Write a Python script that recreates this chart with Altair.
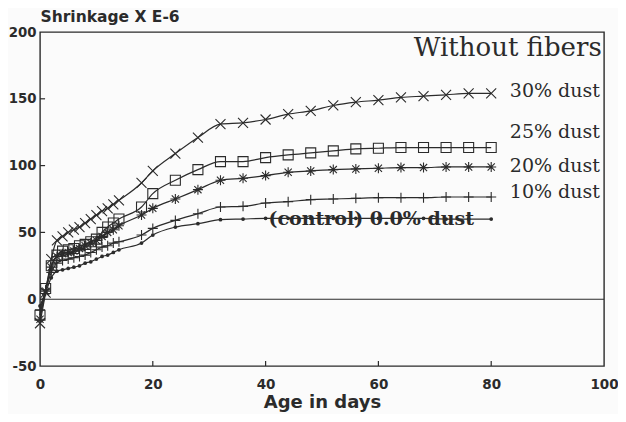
import altair as alt
import pandas as pd

ages = [0, 1, 2, 3, 4, 5, 6, 7, 8, 9, 10, 11, 12, 13, 14, 18, 20, 24, 28, 32,
        36, 40, 44, 48, 52, 56, 60, 64, 68, 72, 76, 80]

dust30 = [-18, 5, 30, 44, 47, 50, 52, 54, 57, 60, 63, 66, 68, 71, 74, 87, 96, 109,
          121, 131, 132, 134.5, 138.5, 141, 145, 147.5, 149, 151, 152, 153, 154, 154]
dust25 = [-12, 8, 25, 33, 36, 37, 38, 40, 41, 43, 45, 50, 54, 57, 60, 69, 79, 89,
          97, 103, 103, 106, 108, 109.5, 111, 112.5, 113, 113.5, 113.5, 113.5, 113.5, 113.5]
dust20 = [-15, 6, 24, 32, 34, 35, 36, 38, 40, 42, 44, 47, 50, 52, 55, 63, 68, 75,
          82, 89, 90.5, 92.5, 95, 96, 97, 97.5, 98, 98.5, 98.5, 99, 99, 99]
dust10 = [-8, 7, 20, 27, 29, 30, 31, 32, 33, 35, 37, 39, 40, 42, 43, 48, 53, 59,
          64, 69, 69.5, 72, 73, 74.5, 75, 75.5, 76, 76, 76, 76.5, 76.5, 76.5]
control = [-5, 5, 16, 21, 22, 23, 24, 25, 27, 28, 30, 32, 33, 35, 37, 42, 48, 54,
           56.5, 59.5, 60, 60.5, 60.5, 60.5, 60.5, 60.5, 60.5, 60.5, 60.5, 60, 60, 60]

series_names = ["30% dust", "25% dust", "20% dust", "10% dust", "(control) 0.0% dust"]
series_values = [dust30, dust25, dust20, dust10, control]

label_texts = ["30% dust", "25% dust", "20% dust", "10% dust"]
label_x = [83.3, 83.3, 83.3, 83.3]
label_y = [156, 125, 100, 80]

x_ticks = [0, 20, 40, 60, 80, 100]
y_ticks = [-50, 0, 50, 100, 150, 200]

rows = []
for name, vals in zip(series_names, series_values):
    for a, v in zip(ages, vals):
        rows.append({"series": name, "age": a, "value": v})
df = pd.DataFrame(rows)

INK = "#2b2b2b"
SANS = "DejaVu Sans"
SERIF = "DejaVu Serif"

xs = alt.Scale(domain=[0, 100], nice=False)
ys = alt.Scale(domain=[-50, 200], nice=False)

x_axis = alt.Axis(values=x_ticks, grid=False, domain=False, ticks=False,
                  labelFont=SANS, labelFontWeight="bold", labelFontSize=13.5,
                  labelColor=INK, labelPadding=11, labelFlush=False,
                  title="Age in days", titleFont=SANS, titleFontWeight="bold",
                  titleFontSize=18, titleColor=INK, titlePadding=3)
y_axis = alt.Axis(values=y_ticks, grid=False, domain=False, ticks=False,
                  labelFont=SANS, labelFontWeight="bold", labelFontSize=13.3,
                  labelColor=INK, labelPadding=4, labelFlush=False,
                  labelExpr="toString(datum.value)",
                  title="Shrinkage X E-6", titleFont=SANS, titleFontWeight="bold",
                  titleFontSize=15.5, titleColor=INK, titleAngle=0, titleAlign="left",
                  titleBaseline="alphabetic", titleX=0, titleY=-11)

X = alt.X("age:Q", scale=xs, axis=x_axis)
Y = alt.Y("value:Q", scale=ys, axis=y_axis)

base = alt.Chart(df)

lines = base.mark_line(color=INK, strokeWidth=1.2, interpolate="monotone").encode(
    x=X, y=Y, detail="series:N")

shape_names = series_names[:4]
shape_paths = [
    "M-1,-1L1,1M-1,1L1,-1",
    "square",
    "M-1,0L1,0M0,-1L0,1M-0.72,-0.72L0.72,0.72M-0.72,0.72L0.72,-0.72",
    "M-1,0L1,0M0,-1L0,1",
]
pts = base.transform_filter(
    alt.FieldOneOfPredicate(field="series", oneOf=shape_names)
).mark_point(filled=False, color=INK, strokeWidth=1.1, size=100, opacity=1).encode(
    x=X, y=Y,
    shape=alt.Shape("series:N", scale=alt.Scale(domain=shape_names, range=shape_paths),
                    legend=None))

dots = base.transform_filter(
    alt.datum.series == series_names[4]
).mark_circle(color=INK, size=14, opacity=1).encode(x=X, y=Y)

zero = alt.Chart(pd.DataFrame({"z": [0]})).mark_rule(color=INK, strokeWidth=1.1).encode(
    y=alt.Y("z:Q", scale=ys))

xt = alt.Chart(pd.DataFrame({"t": x_ticks[1:-1]})).mark_rule(color=INK, strokeWidth=1.2).encode(
    x=alt.X("t:Q", scale=xs), y=alt.datum(-50), y2=alt.datum(-46.3))
yt = alt.Chart(pd.DataFrame({"t": y_ticks[1:-1]})).mark_rule(color=INK, strokeWidth=1.2).encode(
    y=alt.Y("t:Q", scale=ys), x=alt.datum(0), x2=alt.datum(0.9))

labels = alt.Chart(pd.DataFrame({"t": label_texts, "x": label_x, "y": label_y})).mark_text(
    font=SERIF, fontSize=19, color=INK, align="left", baseline="middle").encode(
    x=alt.X("x:Q", scale=xs), y=alt.Y("y:Q", scale=ys), text="t:N")

ctrl_label = alt.Chart(pd.DataFrame({"t": [series_names[4]], "x": [40.5], "y": [60]})).mark_text(
    font=SERIF, fontSize=19, fontWeight="bold", color=INK, align="left", baseline="middle").encode(
    x=alt.X("x:Q", scale=xs), y=alt.Y("y:Q", scale=ys), text="t:N")

head = alt.Chart(pd.DataFrame({"t": ["Without fibers"], "x": [99.6], "y": [188]})).mark_text(
    font=SERIF, fontSize=26, color=INK, align="right", baseline="middle").encode(
    x=alt.X("x:Q", scale=xs), y=alt.Y("y:Q", scale=ys), text="t:N")

chart = alt.layer(zero, xt, yt, lines, pts, dots, labels, ctrl_label, head).properties(
    width=564, height=334,
    padding={"left": 32, "top": 24, "right": 14, "bottom": 48},
    autosize=alt.AutoSizeParams(type="none"),
    background="#fbfbfb",
).configure_view(stroke=INK, strokeWidth=1.4)

chart.save("out.html", embed_options={"renderer": "svg", "actions": False})
